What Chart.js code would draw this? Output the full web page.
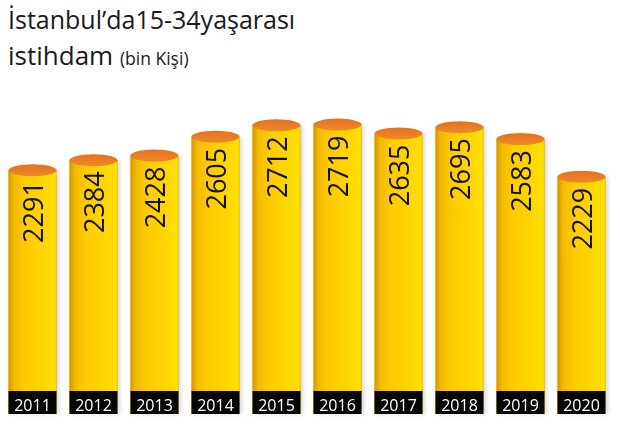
<!DOCTYPE html>
<html>
<head>
<meta charset="utf-8">
<script src="https://cdn.jsdelivr.net/npm/chart.js@4"></script>
<style>
  body { margin: 0; background: #fff; }
  #wrap { position: relative; width: 620px; height: 425px; }
  #graphique { position: absolute; left: 0; top: 0; }
  .titre { position: absolute; left: 8px; font-family: "Open Sans", sans-serif; color: #1a1a1a; white-space: nowrap; }
  #t1 { top: 2px; font-size: 25px; letter-spacing: 0; }
  #t2 { top: 37px; font-size: 26px; }
  #t2 small { font-size: 17.5px; }
</style>
</head>
<body>
<div id="wrap">
  <div class="titre" id="t1">İstanbul’da15-34yaşarası</div>
  <div class="titre" id="t2">istihdam <small>(bin Kişi)</small></div>
  <canvas id="graphique" width="620" height="425"></canvas>
</div>
<script>
// données
var annees = ['2011', '2012', '2013', '2014', '2015', '2016', '2017', '2018', '2019', '2020'];
var emploi = [2291, 2384, 2428, 2605, 2712, 2719, 2635, 2695, 2583, 2229];

// dessin des cylindres par-dessus les barres
var cylindres = {
  id: 'cylindres',
  afterDatasetsDraw: function(chart) {
    var ctx = chart.ctx;
    var meta = chart.getDatasetMeta(0);
    meta.data.forEach(function(bar, i) {
      var w = bar.width, left = bar.x - w / 2;
      var top = bar.y, base = bar.base;

      ctx.save();
      // ombre légère
      ctx.shadowColor = 'rgba(0,0,0,0.15)';
      ctx.shadowOffsetX = 2;
      ctx.shadowBlur = 4;
      var grad = ctx.createLinearGradient(left, 0, left + w, 0);
      grad.addColorStop(0, '#D69800');
      grad.addColorStop(0.12, '#F2BB00');
      grad.addColorStop(0.35, '#FFCB00');
      grad.addColorStop(0.75, '#FFD700');
      grad.addColorStop(0.97, '#FFE000');
      grad.addColorStop(1, '#F0C800');
      ctx.fillStyle = grad;
      ctx.fillRect(left, top, w, base - top);
      ctx.restore();

      // dessus orange
      ctx.save();
      ctx.beginPath();
      ctx.ellipse(bar.x, top, w / 2, 6, 0, 0, Math.PI * 2);
      var g2 = ctx.createLinearGradient(0, top - 6, 0, top + 6);
      g2.addColorStop(0, '#E5701C');
      g2.addColorStop(1, '#EE8A2A');
      ctx.fillStyle = g2;
      ctx.fill();
      ctx.restore();

      // étiquette année
      ctx.save();
      ctx.fillStyle = '#050505';
      ctx.fillRect(left, base - 23, w, 23);
      ctx.fillStyle = '#ffffff';
      ctx.font = '16px "Open Sans", sans-serif';
      ctx.textAlign = 'center';
      ctx.textBaseline = 'alphabetic';
      ctx.fillText(chart.data.labels[i], bar.x, base - 3);
      ctx.restore();

      // valeur verticale
      ctx.save();
      ctx.translate(bar.x, top + 11);
      ctx.rotate(-Math.PI / 2);
      ctx.fillStyle = '#111';
      ctx.font = '27px "Open Sans", sans-serif';
      ctx.textAlign = 'right';
      ctx.textBaseline = 'alphabetic';
      ctx.fillText(String(chart.data.datasets[0].data[i]), 0, 10);
      ctx.restore();
    });
  }
};

var ctx = document.getElementById('graphique').getContext('2d');
var chart = new Chart(ctx, {
  type: 'bar',
  data: {
    labels: annees,
    datasets: [{
      label: 'istihdam (bin Kişi)',
      data: emploi,
      backgroundColor: '#FFD200',
      barPercentage: 0.787,
      categoryPercentage: 1
    }]
  },
  options: {
    responsive: false,
    animation: false,
    layout: { padding: { left: 2, right: 8, top: 116, bottom: 11 } },
    plugins: {
      legend: { display: false },
      tooltip: { enabled: false }
    },
    scales: {
      x: { display: false },
      y: { display: false, min: 0, max: 2800 }
    }
  },
  plugins: [cylindres]
});
</script>
</body>
</html>
